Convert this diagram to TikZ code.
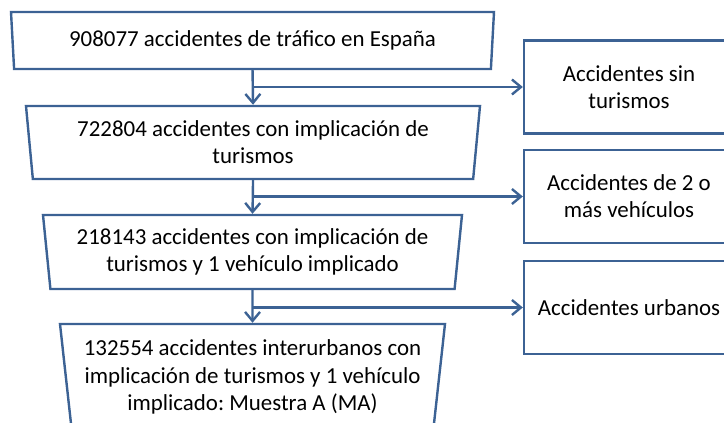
\documentclass[tikz,border=0pt]{standalone}
\usepackage{fontspec}
\setmainfont{Carlito}
\frenchspacing
\usetikzlibrary{shapes.geometric,arrows.meta}
\definecolor{boxline}{HTML}{3C6294}

\begin{document}
\begin{tikzpicture}[x=0.5pt,y=-0.5pt,
        txt/.style={font=\fontsize{11.45}{13.6}\selectfont,align=center,inner sep=0pt,draw=boxline,line width=1.2pt},
        trap/.style={txt,trapezium,shape border rotate=180,trapezium angle=81,trapezium stretches body},
        side/.style={txt,rectangle,minimum width=105pt,minimum height=46.5pt},
        flow/.style={draw=boxline,line width=1.2pt,-{Straight Barb[length=4.5pt,width=7.5pt]}}]
        \useasboundingbox (0,0) rectangle (724,423);
        \node[trap,minimum width=241.5pt,minimum height=28.5pt] (total) at (252.5,40.5) {908077 accidentes de tráfico en España};
        \node[trap,minimum width=227pt,minimum height=36.5pt] (turismos) at (253,142.5) {722804 accidentes con implicación de\\turismos};
        \node[trap,minimum width=209.5pt,minimum height=37pt] (unveh) at (252.5,252) {218143 accidentes con implicación de\\turismos y 1 vehículo implicado};
        \node[trap,minimum width=192.5pt,minimum height=53pt] (muestra) at (252.5,377) {132554 accidentes interurbanos con\\implicación de turismos y 1 vehículo\\implicado: Muestra A (MA)};
        \node[side] (sintur) at (629,87) {Accidentes sin\\turismos};
        \node[side] (dosveh) at (629,196.5) {Accidentes de 2 o\\más vehículos};
        \node[side] (urbanos) at (629,307.5) {Accidentes urbanos};
        \draw[flow] (total.south) -- (turismos.north);
        \draw[flow] (total.south |- sintur.west) -- (sintur.west);
        \draw[flow] (turismos.south) -- (unveh.north);
        \draw[flow] (turismos.south |- dosveh.west) -- (dosveh.west);
        \draw[flow] (unveh.south) -- (muestra.north);
        \draw[flow] (unveh.south |- urbanos.west) -- (urbanos.west);
    \end{tikzpicture}
\end{document}
